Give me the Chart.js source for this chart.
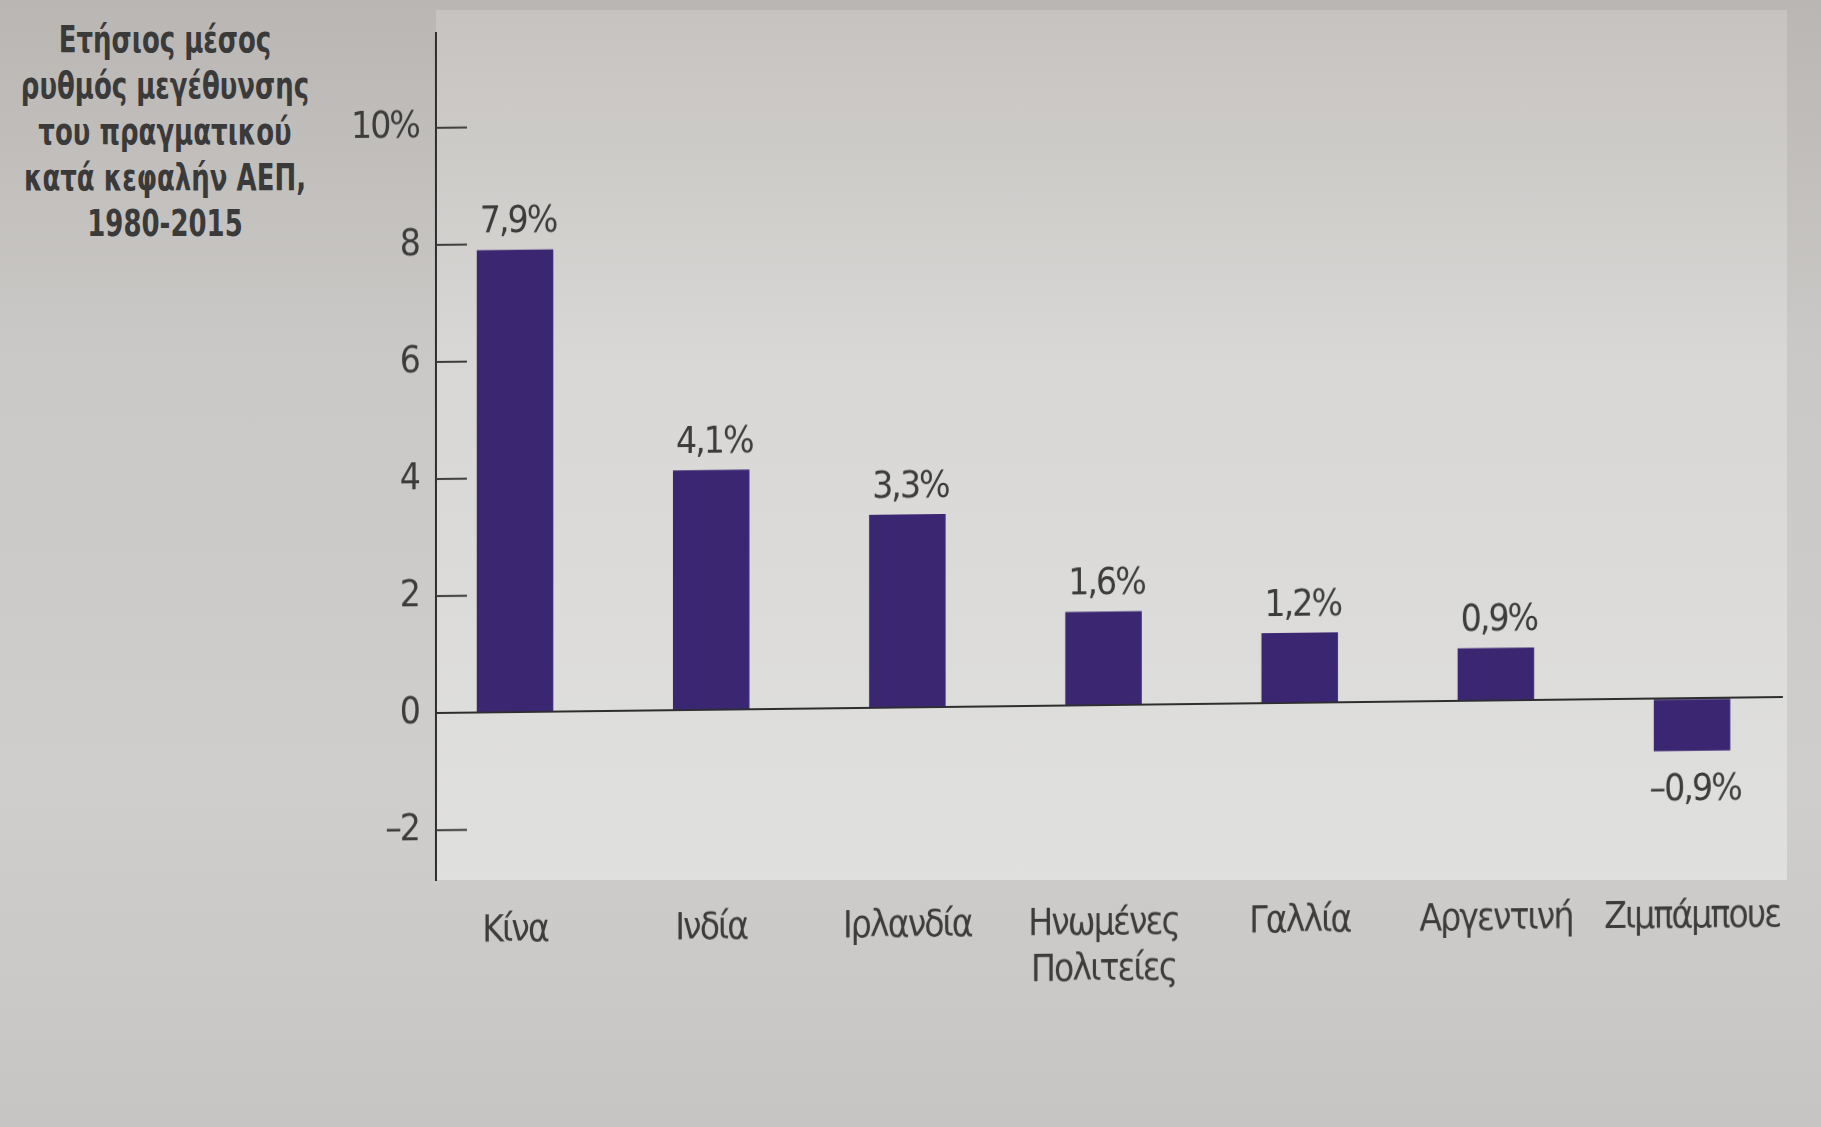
<!DOCTYPE html>
<html lang="el">
<head>
<meta charset="utf-8">
<title>Ετήσιος μέσος ρυθμός μεγέθυνσης του πραγματικού κατά κεφαλήν ΑΕΠ</title>
<script src="https://cdn.jsdelivr.net/npm/chart.js@4.4.1/dist/chart.umd.min.js"></script>
<style>
  html, body { margin: 0; padding: 0; width: 1821px; height: 1127px; overflow: hidden; }
  body { background: linear-gradient(180deg, #b9b6b3 0%, #cac8c6 30%, #cfcecc 70%, #c6c5c3 100%); position: relative; }
  #panel { position: absolute; left: 436px; top: 10px; width: 1351px; height: 870px;
           background: linear-gradient(180deg, #c6c3c0 0%, #d8d7d5 40%, #e0e0de 100%); }
  #titlos { position: absolute; left: -100px; top: 16px; width: 530px; text-align: center; white-space: nowrap;
            font: bold 38px/46px "Liberation Sans Narrow", "DejaVu Sans Condensed", sans-serif; color: #3a3a3a;
            transform: scaleX(0.76); transform-origin: 50% 0; }
  #wrap { position: absolute; left: 0; top: 0; width: 1821px; height: 1127px;
          transform-origin: 436px 713px; transform: skewY(-0.68deg); }
</style>
</head>
<body>
<div id="panel"></div>
<div id="titlos">Ετήσιος μέσος<br>ρυθμός μεγέθυνσης<br>του πραγματικού<br>κατά κεφαλήν ΑΕΠ,<br>1980-2015</div>
<div id="wrap"><canvas id="myChart" width="1821" height="1127"></canvas></div>
<script>
const categories = ['Κίνα', 'Ινδία', 'Ιρλανδία', ['Ηνωμένες', 'Πολιτείες'], 'Γαλλία', 'Αργεντινή', 'Ζιμπάμπουε'];
const growth = [7.9, 4.1, 3.3, 1.6, 1.2, 0.9, -0.9];
const yTicks = [-2, 0, 2, 4, 6, 8, 10];
const yTickLabels = ['–2', '0', '2', '4', '6', '8', '10%'];

const fam = '"Liberation Sans Narrow", "DejaVu Sans Condensed", sans-serif';
const ink = '#3c3c3c';
const fontSize = 37;

// πιο στενά γράμματα, όπως στο βιβλίο
const narrowText = {
    id: 'narrowText',
    beforeUpdate(chart) { chart.ctx.letterSpacing = '-2px'; },
    beforeDraw(chart) { chart.ctx.letterSpacing = '-2px'; }
};

// τιμές πάνω/κάτω από τις μπάρες
const valueLabels = {
    id: 'valueLabels',
    afterDatasetsDraw(chart) {
        const ctx = chart.ctx;
        const meta = chart.getDatasetMeta(0);
        ctx.save();
        ctx.font = fontSize + 'px ' + fam;
        ctx.fillStyle = ink;
        ctx.textAlign = 'center';
        ctx.textBaseline = 'middle';
        meta.data.forEach((bar, i) => {
            const v = growth[i];
            const txt = (v < 0 ? '–' : '') + Math.abs(v).toFixed(1).replace('.', ',') + '%';
            ctx.fillText(txt, bar.x + 3, v >= 0 ? bar.y - 27 : bar.y + 40);
        });
        ctx.restore();
    }
};

// μικρές γραμμές υποδιαίρεσης προς τα μέσα
const tickMarks = {
    id: 'tickMarks',
    afterDraw(chart) {
        const y = chart.scales.y;
        const ctx = chart.ctx;
        const left = chart.chartArea.left;
        ctx.save();
        ctx.strokeStyle = ink;
        ctx.lineWidth = 2;
        y.ticks.forEach(t => {
            if (t.value === 0) return;
            const py = y.getPixelForValue(t.value);
            ctx.beginPath();
            ctx.moveTo(left, py);
            ctx.lineTo(left + 31, py);
            ctx.stroke();
        });
        ctx.restore();
    }
};

const chartDOM = document.getElementById('myChart');
const chart = new Chart(chartDOM, {
    type: 'bar',
    data: {
        datasets: [{
            data: growth.map((v, i) => ({ x: i, y: v })),
            backgroundColor: '#3b2672',
            borderWidth: 0,
            barPercentage: 0.39,
            categoryPercentage: 1
        }]
    },
    options: {
        responsive: false,
        animation: false,
        layout: { padding: { top: 33, right: 38, bottom: 0, left: 0 } },
        plugins: { legend: { display: false }, tooltip: { enabled: false } },
        scales: {
            x: {
                type: 'linear',
                offset: false,
                min: -0.403,
                max: 6.463,
                afterBuildTicks: s => { s.ticks = categories.map((c, i) => ({ value: i })); },
                afterFit: s => { s.height = 247; s.paddingLeft = 0; s.paddingRight = 0; },
                grid: { display: false },
                border: { display: false },
                ticks: {
                    autoSkip: false,
                    maxRotation: 0,
                    padding: 21,
                    color: ink,
                    font: { family: fam, size: fontSize, lineHeight: 1.25 },
                    callback: (v, i) => categories[i]
                }
            },
            y: {
                min: -2.85,
                max: 11.62,
                afterBuildTicks: s => { s.ticks = yTicks.map(v => ({ value: v })); },
                afterFit: s => { s.width = 436; s.paddingTop = 0; s.paddingBottom = 0; },
                grid: {
                    drawTicks: false,
                    lineWidth: 2,
                    color: c => (c.tick && c.tick.value === 0) ? '#2e2e2e' : 'rgba(0,0,0,0)'
                },
                border: { display: true, color: '#2e2e2e', width: 2 },
                ticks: {
                    padding: 17,
                    color: ink,
                    font: { family: fam, size: fontSize },
                    callback: (v, i) => yTickLabels[i]
                }
            }
        }
    },
    plugins: [narrowText, valueLabels, tickMarks]
});
</script>
</body>
</html>
